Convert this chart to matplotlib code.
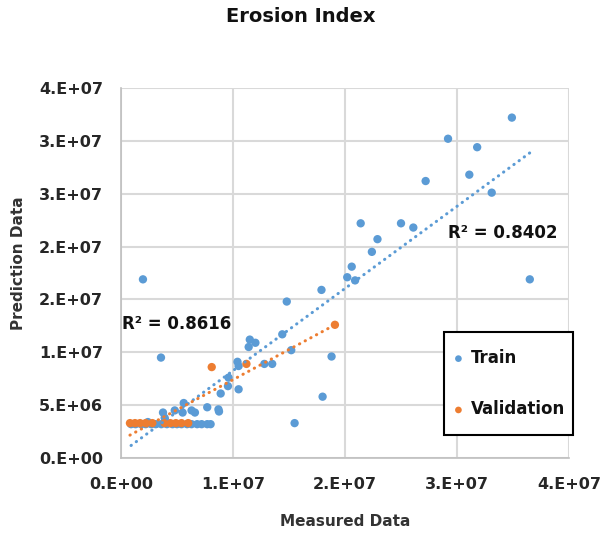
import numpy as np
import matplotlib
matplotlib.use("Agg")
import matplotlib.pyplot as plt
from matplotlib.patches import Rectangle
from matplotlib.ticker import FuncFormatter, MultipleLocator

plt.rcParams['font.family'] = ['DejaVu Sans']
plt.rcParams['font.weight'] = 'bold'

# values, in millions
train_x = np.array([1.96, 3.57, 34.9, 29.2, 31.8, 27.2, 31.1, 33.1, 21.4, 25.0,
                    26.1, 22.9, 22.4, 20.6, 20.2, 20.9, 17.9, 36.5, 14.8, 14.4,
                    18.8, 15.2, 11.5, 12.0, 11.4, 10.4, 10.5, 12.8, 13.5, 9.6,
                    9.55, 10.5, 18.0, 15.5, 8.9, 7.7, 8.7, 8.75, 6.6, 5.6,
                    6.3, 5.5, 4.8, 3.75, 3.9, 2.4,
                    0.9, 1.3, 1.8, 2.2, 2.7, 3.1, 3.6, 4.1, 4.6, 5.0,
                    5.4, 5.9, 6.3, 6.8, 7.2, 7.7, 8.0])
train_y = np.array([16.9, 9.5, 32.2, 30.2, 29.4, 26.2, 26.8, 25.1, 22.2, 22.2,
                    21.8, 20.7, 19.5, 18.1, 17.1, 16.8, 15.9, 16.9, 14.8, 11.7,
                    9.6, 10.2, 11.2, 10.9, 10.5, 9.1, 8.7, 8.9, 8.9, 7.6,
                    6.8, 6.5, 5.8, 3.3, 6.1, 4.8, 4.6, 4.4, 4.3, 5.2,
                    4.5, 4.3, 4.5, 4.3, 3.8, 3.4,
                    3.2, 3.2, 3.2, 3.2, 3.2, 3.2, 3.2, 3.2, 3.2, 3.2,
                    3.2, 3.2, 3.2, 3.2, 3.2, 3.2, 3.2])
val_x = np.array([0.8, 1.25, 1.7, 2.2, 2.8, 3.9, 4.4, 4.9, 5.4, 6.0,
                  8.1, 11.2, 19.1])
val_y = np.array([3.3, 3.3, 3.3, 3.3, 3.3, 3.3, 3.3, 3.3, 3.3, 3.3,
                  8.6, 8.9, 12.6])
r2_train = "R² = 0.8402"
r2_val = "R² = 0.8616"

blue = '#5B9BD5'
orange = '#ED7D31'
grid = '#D9D9D9'
txt = '#262626'


def excel_sci(v, pos):
    # mimic Excel's "0.E+00" number format (round half up)
    if v == 0:
        return '0.E+00'
    e = int(np.floor(np.log10(abs(v))))
    m = int(np.floor(v / 10 ** e + 0.5))
    if m == 10:
        m, e = 1, e + 1
    return f'{m}.E+{e:02d}'


fig = plt.figure(figsize=(6.01, 5.37), dpi=100)
ax = fig.add_axes([121 / 601, 1 - 458 / 537, 448 / 601, 370 / 537])

tx, ty = train_x * 1e6, train_y * 1e6
vx, vy = val_x * 1e6, val_y * 1e6

ax.scatter(tx, ty, s=36, color=blue, edgecolors='none', zorder=3, label='Train')
ax.scatter(vx, vy, s=36, color=orange, edgecolors='none', zorder=4, label='Validation')

# linear trendlines (Excel style, over each series' x-range)
for x, y, c in [(tx, ty, blue), (vx, vy, orange)]:
    p = np.polyfit(x, y, 1)
    xs = np.array([x.min(), x.max()])
    ax.plot(xs, np.polyval(p, xs), color=c, lw=2.2,
            linestyle=(0, (0.1, 2)), dash_capstyle='round', zorder=5)

ax.set_xlim(0, 4e7)
ax.set_ylim(0, 3.5e7)
ax.xaxis.set_major_locator(MultipleLocator(1e7))
ax.yaxis.set_major_locator(MultipleLocator(5e6))
ax.xaxis.set_major_formatter(FuncFormatter(excel_sci))
ax.yaxis.set_major_formatter(FuncFormatter(excel_sci))
ax.grid(True, color=grid, lw=1.5, zorder=0)
ax.set_axisbelow(True)
for s in ['top', 'right']:
    ax.spines[s].set_visible(False)
for s in ['left', 'bottom']:
    ax.spines[s].set_color('#BFBFBF')
    ax.spines[s].set_linewidth(1.2)
ax.tick_params(axis='both', length=0, labelsize=11.5, colors=txt)
ax.tick_params(axis='y', pad=13)
ax.tick_params(axis='x', pad=13.5)
for lab in ax.get_xticklabels() + ax.get_yticklabels():
    lab.set_fontweight('bold')

ax.set_xlabel('Measured Data', fontsize=11, fontweight='bold', color='#333333')
ax.set_ylabel('Prediction Data', fontsize=11, fontweight='bold', color='#333333')
ax.xaxis.set_label_coords(0.5, -0.152)
ax.yaxis.set_label_coords(-0.212, 0.526)

fig.text(0.5, 1 - 17 / 537, 'Erosion Index', ha='center', va='center',
         fontsize=14, fontweight='bold', color='#111111')

ax.text(0.1e6, 12.7e6, r2_val, fontsize=12, fontweight='bold', va='center', ha='left', color='#111111')
ax.text(29.2e6, 21.3e6, r2_train, fontsize=12, fontweight='bold', va='center', ha='left', color='#111111')

# legend box drawn separately so the padding matches the reference
box = Rectangle((444 / 601, 1 - 435 / 537), 129 / 601, 103 / 537,
                transform=fig.transFigure, facecolor='white', edgecolor='black',
                lw=1.5, zorder=4)
fig.add_artist(box)
handles, labels = ax.get_legend_handles_labels()
leg = fig.legend(handles, labels, loc='upper left', bbox_to_anchor=(453 / 601, 1 - 349 / 537),
                 frameon=False, fontsize=12, scatterpoints=1, markerscale=0.8,
                 borderpad=0, labelspacing=2.0, handlelength=0.65,
                 handletextpad=0.4, borderaxespad=0)
leg.set_zorder(6)
for t in leg.get_texts():
    t.set_fontweight('bold')
    t.set_color('#111111')

fig.savefig('out.png', dpi=100)
